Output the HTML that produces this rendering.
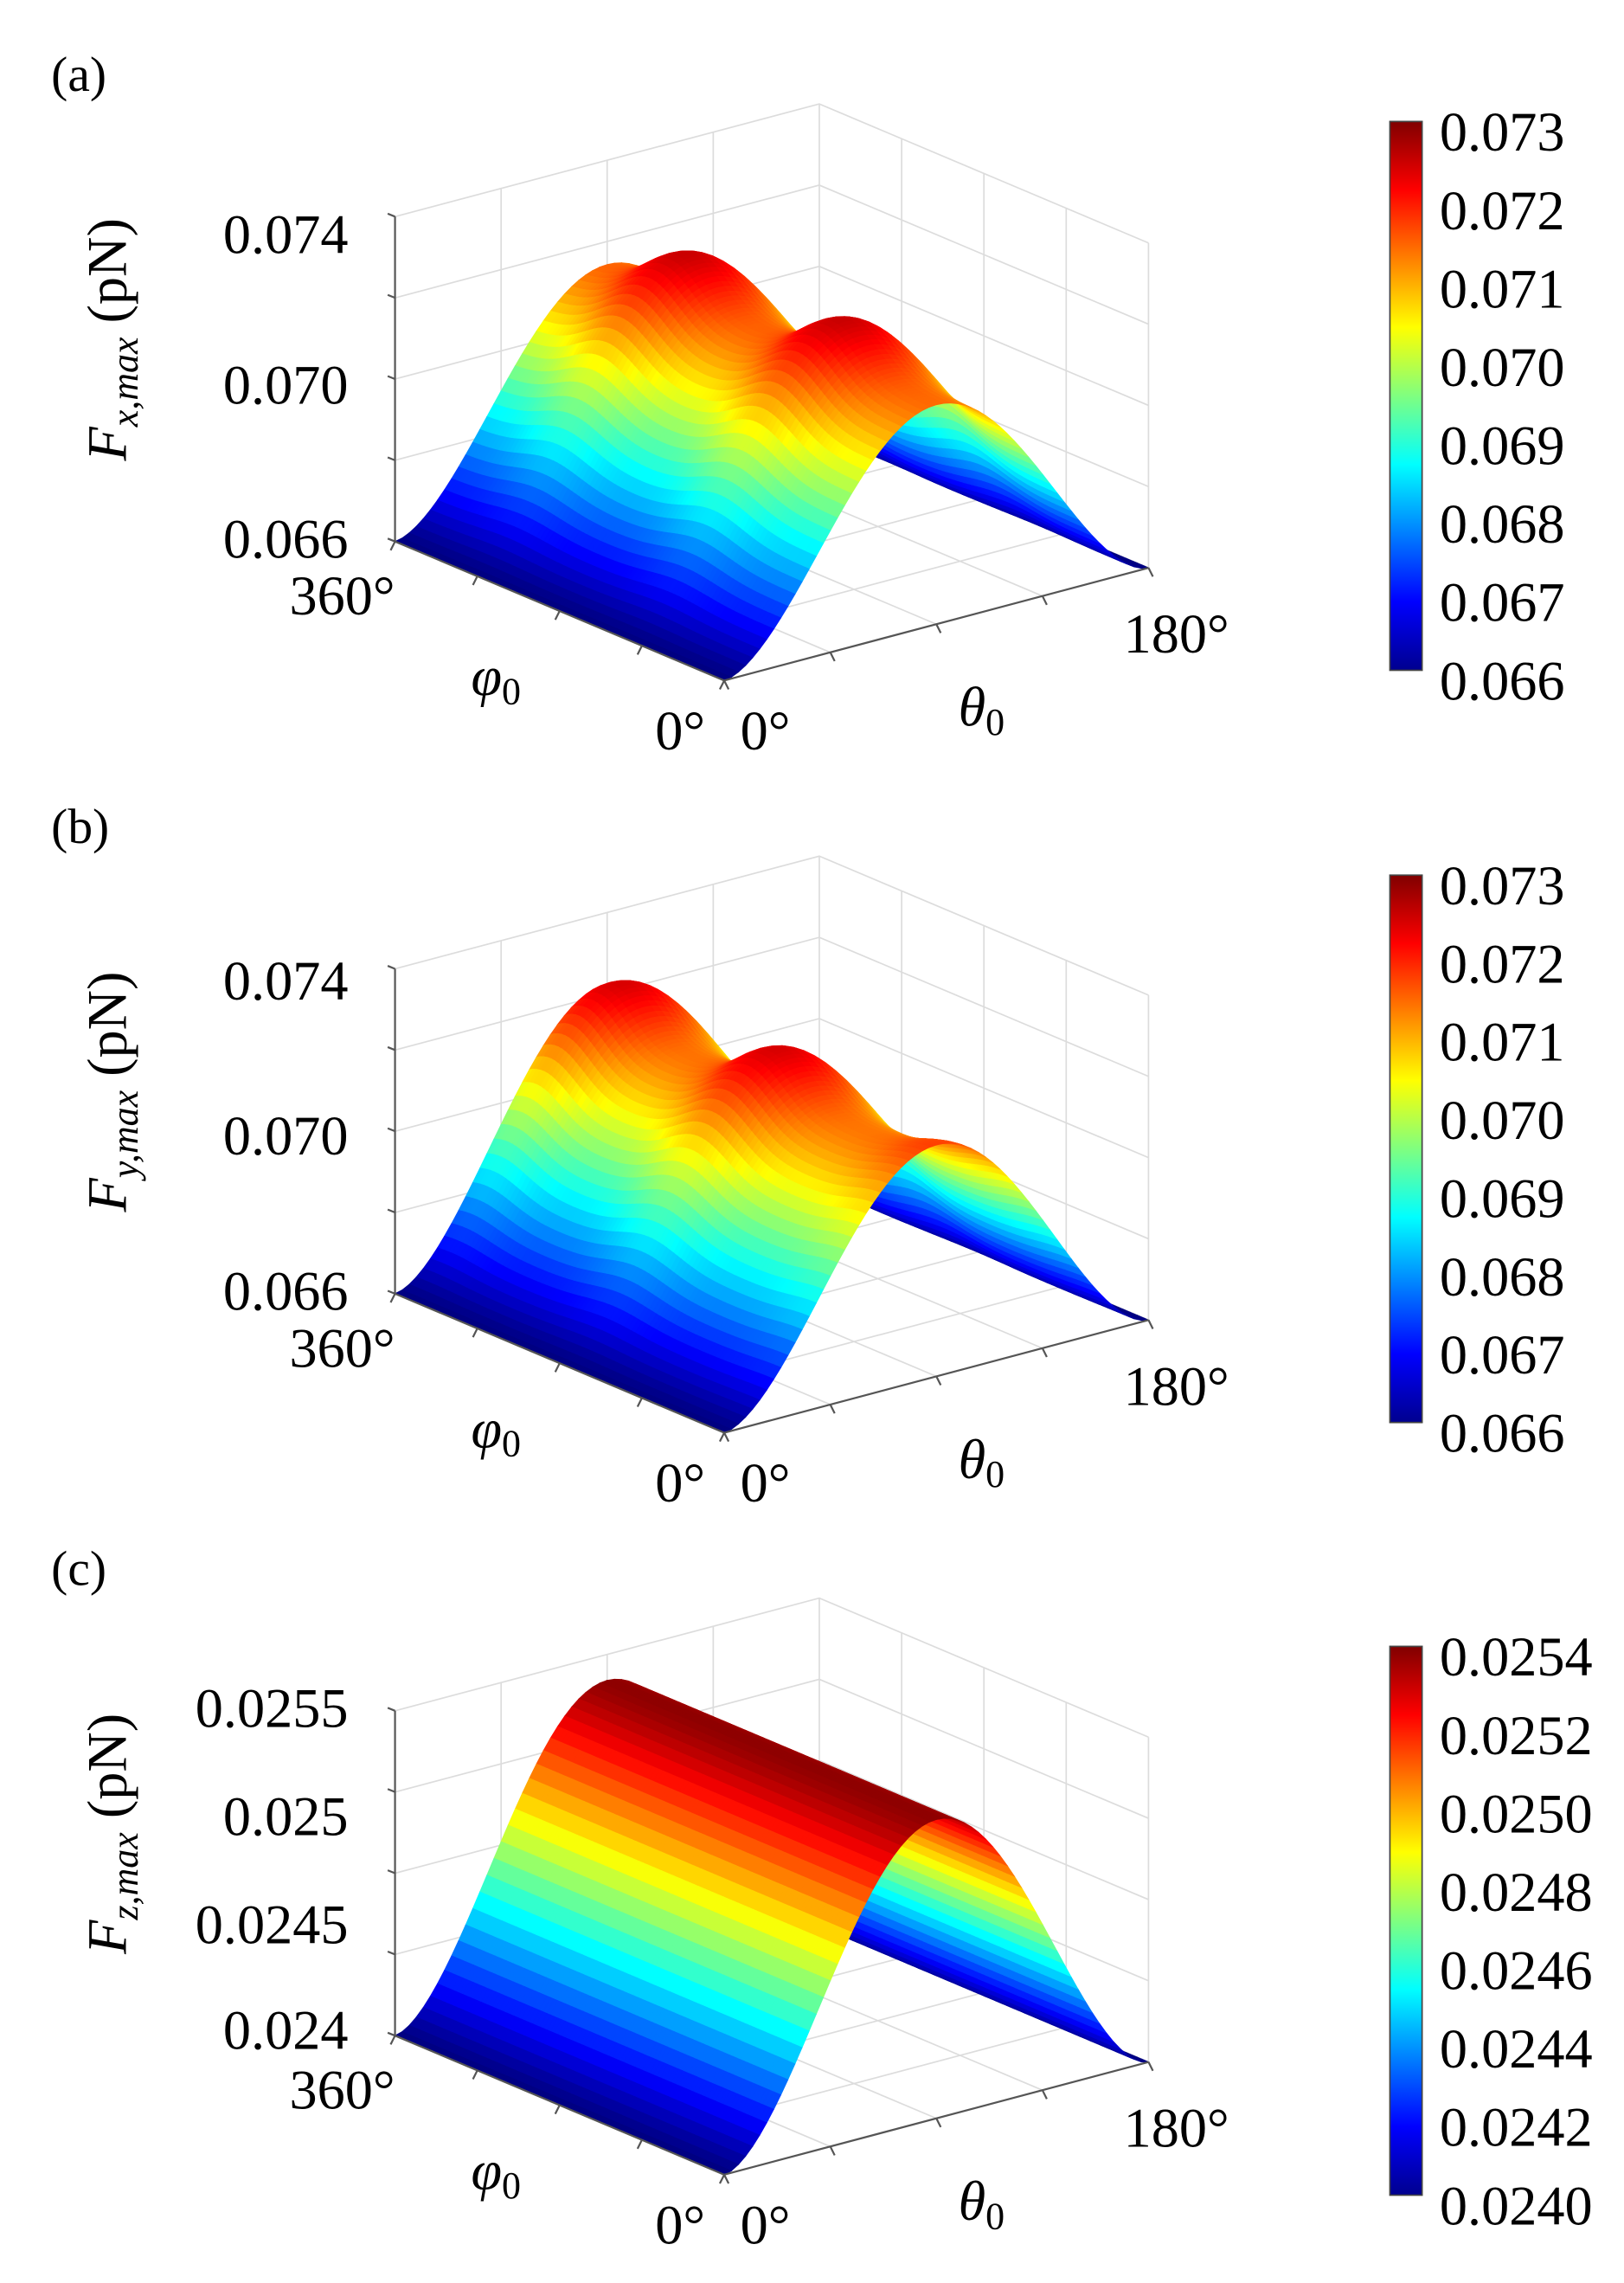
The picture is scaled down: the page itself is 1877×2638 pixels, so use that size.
<!DOCTYPE html>
<html><head><meta charset="utf-8"><style>
html,body{margin:0;padding:0;background:#fff}
svg{display:block}
text{font-family:"Liberation Serif",serif;fill:#000}
</style></head><body>
<svg id="s" width="1877" height="2638" viewBox="0 0 1110 1560" xmlns="http://www.w3.org/2000/svg">
<defs>
<linearGradient id="jet" x1="0" y1="1" x2="0" y2="0">
<stop offset="0" stop-color="#00008f"/><stop offset="0.125" stop-color="#0000ff"/>
<stop offset="0.375" stop-color="#00ffff"/><stop offset="0.625" stop-color="#ffff00"/>
<stop offset="0.875" stop-color="#ff0000"/><stop offset="1" stop-color="#800000"/>
</linearGradient>
</defs>
<g id="g"></g>
</svg>
<script>
var NS="http://www.w3.org/2000/svg",G=document.getElementById("g");
function el(n,a,t){var e=document.createElementNS(NS,n);for(var k in a)e.setAttribute(k,a[k]);if(t!==undefined)e.textContent=t;G.appendChild(e);return e;}
function gs(x,m,s){return Math.exp(-Math.pow((x-m)/s,2));}
function jet(v){v=Math.max(0,Math.min(1,v));function c(x){return Math.round(255*Math.max(0,Math.min(1,x)));}
return "rgb("+c(1.5-Math.abs(4*v-3))+","+c(1.5-Math.abs(4*v-2))+","+c(1.5-Math.abs(4*v-1))+")";}
var panels=[
{off:0,lab:"(a)",sub:"x,max",zmin:0.066,zmax:0.074,cmin:0.066,cmax:0.073,
 zt:[["0.074",0,12],["0.070",0.5,4],["0.066",1,-2]],cb:["0.073","0.072","0.071","0.070","0.069","0.068","0.067","0.066"],
 R:function(p){return 0.0714+0.0011*(gs(p,275,45)+gs(p,105,45));}},
{off:514,lab:"(b)",sub:"y,max",zmin:0.066,zmax:0.074,cmin:0.066,cmax:0.073,
 zt:[["0.074",0,8],["0.070",0.5,3],["0.066",1,-2]],cb:["0.073","0.072","0.071","0.070","0.069","0.068","0.067","0.066"],
 R:function(p){return 0.0713+0.0011*(gs(p,345,40)+gs(p,175,45))+0.0004*gs(p,0,40);}},
{off:1021,lab:"(c)",sub:"z,max",zmin:0.024,zmax:0.0255,cmin:0.0240,cmax:0.0254,
 zt:[["0.0255",0,-2],["0.025",1/3,-2],["0.0245",2/3,-2],["0.024",1,-4]],cb:["0.0254","0.0252","0.0250","0.0248","0.0246","0.0244","0.0242","0.0240"],
 R:function(p){return 0.02538;}}];
panels.forEach(function(P){
 var o=P.off;
 function pr(t,p,h){return [495+t*290-p*225, 465-t*77-p*95+o-h*222];}
 function pt(a){return a[0].toFixed(2)+","+a[1].toFixed(2);}
 var gc="#dcdcdc";
 for(var i=0;i<5;i++){var h=i/4;
  el("polyline",{points:pt(pr(0,1,h))+" "+pt(pr(1,1,h))+" "+pt(pr(1,0,h)),fill:"none",stroke:gc,"stroke-width":1});}
 for(var k=1;k<=4;k++){var t=k/4;
  el("line",{x1:pr(t,1,0)[0],y1:pr(t,1,0)[1],x2:pr(t,1,1)[0],y2:pr(t,1,1)[1],stroke:gc,"stroke-width":1});
  el("line",{x1:pr(t,0,0)[0],y1:pr(t,0,0)[1],x2:pr(t,1,0)[0],y2:pr(t,1,0)[1],stroke:gc,"stroke-width":1});}
 for(var k=0;k<4;k++){var p=k/4;
  el("line",{x1:pr(1,p,0)[0],y1:pr(1,p,0)[1],x2:pr(1,p,1)[0],y2:pr(1,p,1)[1],stroke:gc,"stroke-width":1});
  el("line",{x1:pr(0,p,0)[0],y1:pr(0,p,0)[1],x2:pr(1,p,0)[0],y2:pr(1,p,0)[1],stroke:gc,"stroke-width":1});}
 var NT=60,NP=90,quads=[];
 function f(t,p){var s=Math.pow(Math.sin(Math.PI*t),1.7);return P.zmin+(P.R(p*360)-P.zmin)*s;}
 for(var i=0;i<NT;i++)for(var j=0;j<NP;j++){
  var t0=i/NT,t1=(i+1)/NT,p0=j/NP,p1=(j+1)/NP;
  var z=[f(t0,p0),f(t1,p0),f(t1,p1),f(t0,p1)];
  var zm=(z[0]+z[1]+z[2]+z[3])/4;
  var H=function(zz){return (zz-P.zmin)/(P.zmax-P.zmin);};
  quads.push({d:(t0+t1)/2+(p0+p1)/2,pts:pt(pr(t0,p0,H(z[0])))+" "+pt(pr(t1,p0,H(z[1])))+" "+pt(pr(t1,p1,H(z[2])))+" "+pt(pr(t0,p1,H(z[3]))),c:jet((zm-P.cmin)/(P.cmax-P.cmin))});}
 quads.sort(function(a,b){return b.d-a.d;});
 quads.forEach(function(q){el("polygon",{points:q.pts,fill:q.c,stroke:q.c,"stroke-width":0.6});});
 var ac="#555";
 el("line",{x1:270,y1:148+o,x2:270,y2:370+o,stroke:ac,"stroke-width":1.3});
 el("line",{x1:270,y1:370+o,x2:495,y2:465+o,stroke:ac,"stroke-width":1.3});
 el("line",{x1:495,y1:465+o,x2:785,y2:388+o,stroke:ac,"stroke-width":1.3});
 for(var i=0;i<5;i++){var y=148+o+i*222/4;el("line",{x1:265,y1:y-2,x2:270,y2:y,stroke:ac,"stroke-width":1.3});}
 for(var k=0;k<=4;k++){var a=pr(0,k/4,0);el("line",{x1:a[0],y1:a[1],x2:a[0]-3,y2:a[1]+6,stroke:ac,"stroke-width":1.3});
  var b=pr(k/4,0,0);el("line",{x1:b[0],y1:b[1],x2:b[0]+3,y2:b[1]+6,stroke:ac,"stroke-width":1.3});}
 el("text",{x:35,y:62+o,"font-size":34},P.lab);
 P.zt.forEach(function(z){el("text",{x:238,y:148+o+z[1]*222+13+z[2],"font-size":38,"text-anchor":"end"},z[0]);});
 var yl=el("text",{x:0,y:0,"font-size":38,"text-anchor":"middle",transform:"translate(86,"+(232+o)+") rotate(-90)"});
 yl.innerHTML='<tspan font-style="italic">F</tspan><tspan font-style="italic" font-size="26" dy="8">'+P.sub+'</tspan><tspan dy="-8"> (pN)</tspan>';
 el("text",{x:270,y:420+o,"font-size":38,"text-anchor":"end"},"360°");
 el("text",{x:482,y:512+o,"font-size":38,"text-anchor":"end"},"0°");
 el("text",{x:506,y:512+o,"font-size":38},"0°");
 el("text",{x:768,y:446+o,"font-size":38},"180°");
 var ph=el("text",{x:322,y:475+o,"font-size":38});ph.innerHTML='<tspan font-style="italic">φ</tspan><tspan font-size="26" dy="6">0</tspan>';
 var th=el("text",{x:655,y:496+o,"font-size":38});th.innerHTML='<tspan font-style="italic">θ</tspan><tspan font-size="26" dy="6">0</tspan>';
 var cy0=83,cy1=458;
 if(P.off===514){cy0=598;cy1=972;}
 if(P.off===1021){cy0=1125;cy1=1500;}
 el("rect",{x:950,y:cy0,width:22,height:cy1-cy0,fill:"url(#jet)",stroke:"#444","stroke-width":1});
 P.cb.forEach(function(s,i){el("text",{x:984,y:cy0+7+i*(cy1-cy0)/7+13,"font-size":38},s);});
});
</script>
</body></html>
